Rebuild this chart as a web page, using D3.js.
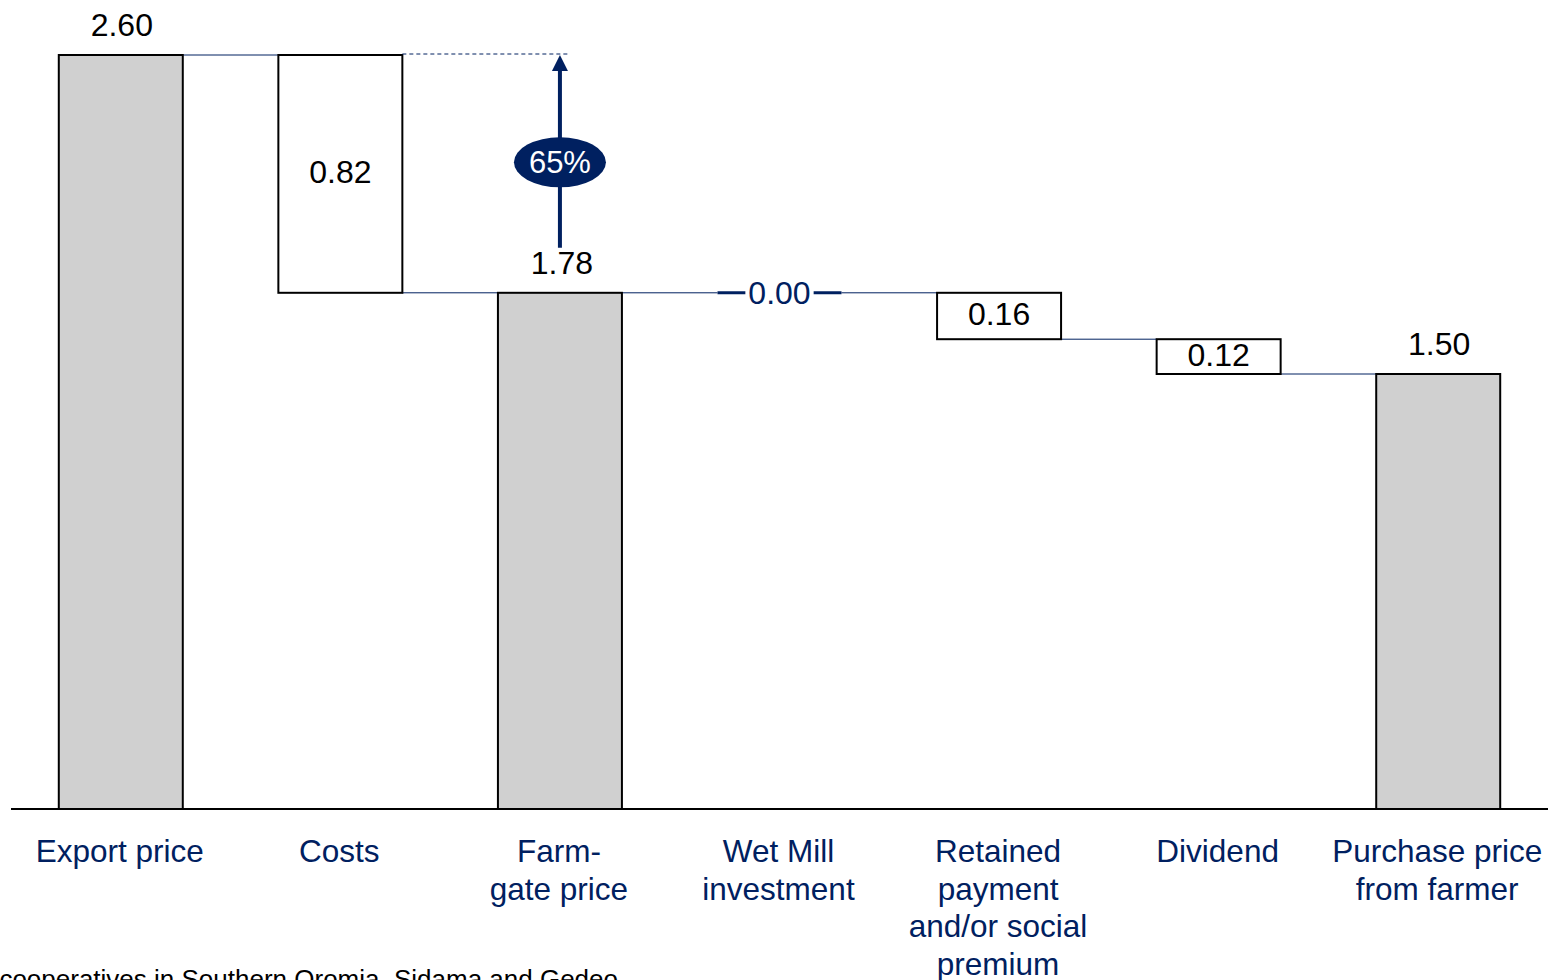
<!DOCTYPE html>
<html><head><meta charset="utf-8">
<script src="https://cdn.jsdelivr.net/npm/d3@7"></script>
<style>
html,body{margin:0;padding:0;background:#fff;overflow:hidden;}
text{font-family:Arial,"Liberation Sans",sans-serif;}
</style></head>
<body>
<svg id="chart" width="1548" height="980"></svg>
<script>
// ---- data ----
const categories = ["Export price","Costs","Farm-\ngate price","Wet Mill\ninvestment","Retained\npayment\nand/or social\npremium","Dividend","Purchase price\nfrom farmer"];
const values = [2.60, 0.82, 1.78, 0.00, 0.16, 0.12, 1.50];
const kinds = ["total","down","total","down","down","down","total"];
const valueLabels = ["2.60","0.82","1.78","0.00","0.16","0.12","1.50"];
const shareLabel = "65%";
const footnote = "cooperatives in Southern Oromia, Sidama and Gedeo";

const navy = "#002060";
const svg = d3.select("#chart");
const W = 1548;
const baseY = 809;

const x = d3.scaleBand().domain(categories).range([11, 1548]).paddingInner(0.4353).paddingOuter(0.4353/2);
const y = d3.scaleLinear().domain([0, 2.60]).range([baseY, 55]);

// compute waterfall segments
let running = 0;
const segs = categories.map((c, i) => {
  let lo, hi;
  if (kinds[i] === "total") { lo = 0; hi = values[i]; running = values[i]; }
  else { hi = running; lo = running - values[i]; running = lo; }
  return {c, i, lo, hi, kind: kinds[i], v: values[i], label: valueLabels[i]};
});

// connectors
const gConn = svg.append("g");
for (let i = 0; i < segs.length - 1; i++) {
  const a = segs[i], b = segs[i+1];
  const ly = y(a.kind === "total" ? a.hi : a.lo);
  gConn.append("line")
    .attr("x1", x(a.c) + x.bandwidth()).attr("x2", x(b.c))
    .attr("y1", ly).attr("y2", ly)
    .attr("stroke", navy).attr("stroke-width", 1);
}

// bars
const gBars = svg.append("g");
segs.forEach(s => {
  if (s.v === 0) {
    gBars.append("line")
      .attr("x1", x(s.c)).attr("x2", x(s.c) + x.bandwidth())
      .attr("y1", y(s.hi)).attr("y2", y(s.hi))
      .attr("stroke", navy).attr("stroke-width", 3);
  } else {
    gBars.append("rect")
      .attr("x", x(s.c)).attr("width", x.bandwidth())
      .attr("y", y(s.hi)).attr("height", y(s.lo) - y(s.hi))
      .attr("fill", s.kind === "total" ? "#d0d0d0" : "#ffffff")
      .attr("stroke", "#000").attr("stroke-width", 2);
  }
});

// axis baseline
svg.append("line").attr("x1", 11).attr("x2", W).attr("y1", baseY).attr("y2", baseY)
  .attr("stroke", "#000").attr("stroke-width", 2);

// value labels
const gLab = svg.append("g").attr("font-size", 32).attr("text-anchor", "middle");
segs.forEach(s => {
  const cx = x(s.c) + x.bandwidth() / 2;
  if (s.kind === "total") {
    gLab.append("text").attr("x", cx + (s.i === 2 ? 2 : 1)).attr("y", y(s.hi) - 19).attr("fill", "#000").text(s.label);
  } else if (s.v === 0) {
    const t = gLab.append("text").attr("x", cx).attr("y", y(s.hi)).attr("dy", "0.35em").attr("fill", navy).text(s.label);
    const bb = t.node().getBBox();
    gLab.insert("rect", () => t.node()).attr("x", bb.x - 3).attr("y", bb.y).attr("width", bb.width + 6).attr("height", bb.height).attr("fill", "#fff");
  } else {
    gLab.append("text").attr("x", cx).attr("y", (y(s.hi) + y(s.lo)) / 2).attr("dy", "0.28em").attr("fill", "#000").text(s.label);
  }
});

// dashed reference line + arrow with share bubble
const farm = segs[2];
const ax = x(farm.c) + x.bandwidth() / 2;
const topY = y(segs[0].hi);
svg.append("line")
  .attr("x1", x(segs[1].c) + x.bandwidth()).attr("x2", ax + 8)
  .attr("y1", topY - 1).attr("y2", topY - 1)
  .attr("stroke", navy).attr("stroke-width", 1).attr("stroke-dasharray", "4,3");
svg.append("line").attr("x1", ax).attr("x2", ax)
  .attr("y1", y(farm.hi) - 45).attr("y2", topY + 14)
  .attr("stroke", navy).attr("stroke-width", 4);
svg.append("path")
  .attr("d", `M${ax},${topY} L${ax - 8},${topY + 16} L${ax + 8},${topY + 16} Z`)
  .attr("fill", navy);
const ey = y(2.23);
svg.append("ellipse").attr("cx", ax).attr("cy", ey).attr("rx", 46).attr("ry", 25).attr("fill", navy);
svg.append("text").attr("x", ax).attr("y", ey).attr("dy", "0.35em").attr("text-anchor", "middle")
  .attr("font-size", 31).attr("fill", "#fff").text(shareLabel);

// category labels
const gCat = svg.append("g").attr("font-size", 31.5).attr("fill", navy).attr("text-anchor", "middle");
categories.forEach((c, i) => {
  const cx = x(c) + x.bandwidth() / 2 - 1;
  const t = gCat.append("text").attr("x", cx).attr("y", 862);
  c.split("\n").forEach((line, j) => {
    t.append("tspan").attr("x", cx).attr("dy", j === 0 ? 0 : 37.5).text(line);
  });
});

// footnote (clipped at page edges, as in the source)
svg.append("text").attr("x", 618).attr("y", 988).attr("text-anchor", "end")
  .attr("font-size", 26).attr("fill", "#000").text(footnote);
</script>
</body></html>
